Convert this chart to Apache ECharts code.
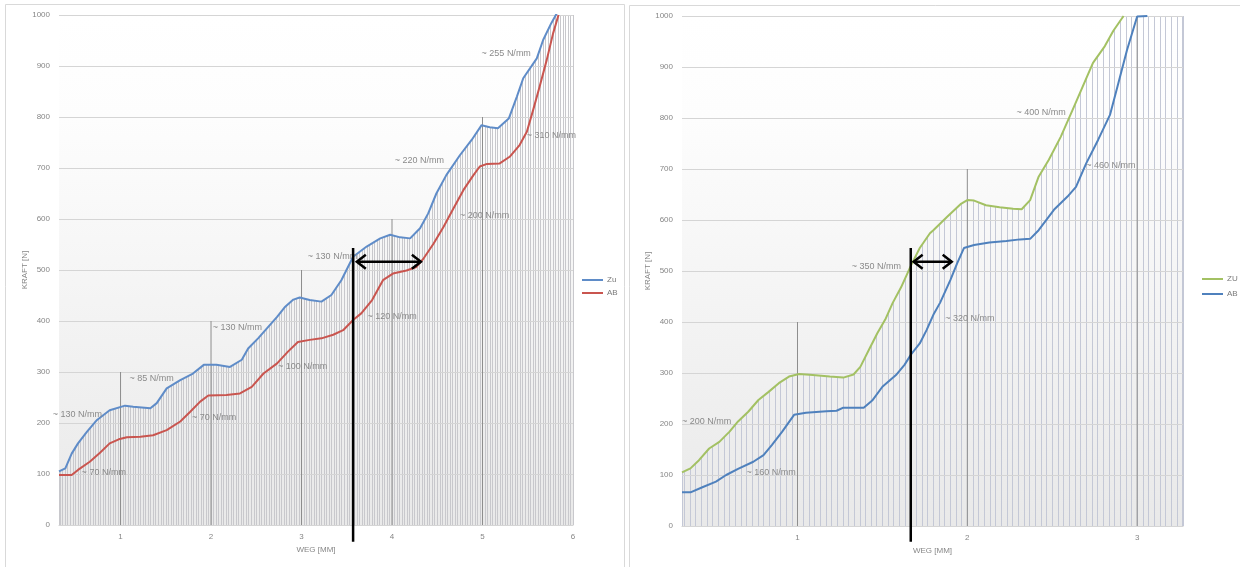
<!DOCTYPE html>
<html>
<head>
<meta charset="utf-8">
<script src="https://cdn.jsdelivr.net/npm/echarts@6/dist/echarts.min.js"></script>
<style>
  html, body { margin: 0; padding: 0; background: #ffffff; }
  #wrap { position: relative; width: 1240px; height: 567px; overflow: hidden; }
  #left { position: absolute; left: 0; top: 0; width: 627px; height: 567px; }
  #right { position: absolute; left: 627px; top: 0; width: 613px; height: 567px; }
</style>
</head>
<body>
<div id="wrap"><div id="left"></div><div id="right"></div></div>
<script>
// ---------- Left test: force [N] over travel [mm] ----------
const leftZu = [[0.32,105],[0.39,111],[0.46,140],[0.53,160],[0.63,183],[0.74,206],[0.88,225],[1.05,234],[1.14,232],[1.33,229],[1.40,239],[1.51,268],[1.66,284],[1.80,297],[1.92,314],[2.06,314],[2.21,310],[2.34,324],[2.41,346],[2.52,366],[2.62,386],[2.73,408],[2.82,428],[2.91,442],[2.98,446],[3.09,441],[3.22,438],[3.33,451],[3.44,480],[3.57,526],[3.72,546],[3.87,562],[3.98,569],[4.09,564],[4.20,562],[4.31,582],[4.40,611],[4.49,650],[4.60,686],[4.75,725],[4.88,755],[4.99,784],[5.08,780],[5.17,778],[5.29,797],[5.38,840],[5.45,876],[5.60,915],[5.67,951],[5.76,984],[5.82,1003]];
const leftAB = [[0.32,98],[0.46,98],[0.53,108],[0.66,124],[0.77,141],[0.88,160],[0.98,168],[1.07,172],[1.22,173],[1.36,176],[1.51,186],[1.66,203],[1.77,222],[1.88,242],[1.97,254],[2.17,255],[2.32,258],[2.45,271],[2.58,297],[2.73,317],[2.85,340],[2.96,359],[3.09,363],[3.22,366],[3.35,373],[3.46,382],[3.57,402],[3.66,415],[3.78,441],[3.90,480],[4.01,493],[4.16,499],[4.27,506],[4.35,523],[4.46,552],[4.57,585],[4.68,621],[4.79,657],[4.90,686],[4.97,703],[5.05,708],[5.19,709],[5.30,722],[5.41,745],[5.49,771],[5.56,814],[5.63,859],[5.71,912],[5.78,964],[5.84,1000]];
// reference drop lines: [travel, force reached]
const leftMajor = [[1,300],[2,400],[3,500],[4,600],[5,800]];
// stiffness notes: [text, travel, force]
const leftNotes = [
  ['~ 130 N/mm', 0.25, 216], ['~ 70 N/mm', 0.57, 102], ['~ 85 N/mm', 1.10, 288],
  ['~ 70 N/mm', 1.79, 210], ['~ 130 N/mm', 2.02, 388], ['~ 100 N/mm', 2.74, 310],
  ['~ 120 N/mm', 3.73, 408], ['~ 130 N/mm', 3.07, 527], ['~ 220 N/mm', 4.03, 714],
  ['~ 200 N/mm', 4.75, 606], ['~ 255 N/mm', 4.99, 924], ['~ 310 N/mm', 5.49, 763]
];
const leftMarker = [[3.57, -33, 543]];   // [travel, force bottom, force top]
const leftArrow = [[3.60, 4.33, 516]];   // [travel from, travel to, force]

// ---------- Right test ----------
const rightZu = [[0.32,105],[0.37,113],[0.42,129],[0.48,152],[0.54,165],[0.60,185],[0.65,205],[0.71,224],[0.77,247],[0.83,263],[0.89,280],[0.95,293],[1.01,298],[1.09,296],[1.19,293],[1.27,291],[1.33,297],[1.37,312],[1.42,345],[1.47,378],[1.52,407],[1.56,437],[1.61,468],[1.64,490],[1.67,512],[1.72,545],[1.78,574],[1.80,580],[1.88,606],[1.96,631],[2.00,639],[2.04,638],[2.11,629],[2.19,625],[2.27,622],[2.32,621],[2.37,639],[2.42,685],[2.48,718],[2.55,763],[2.62,816],[2.68,862],[2.74,908],[2.81,941],[2.86,971],[2.92,1000]];
const rightAB = [[0.32,66],[0.37,66],[0.44,76],[0.52,87],[0.58,100],[0.65,112],[0.74,126],[0.80,139],[0.85,159],[0.91,185],[0.98,218],[1.05,222],[1.17,225],[1.23,226],[1.27,232],[1.39,232],[1.44,246],[1.50,273],[1.58,296],[1.63,316],[1.67,337],[1.72,358],[1.76,384],[1.80,414],[1.84,438],[1.90,482],[1.94,515],[1.98,545],[2.04,551],[2.13,556],[2.23,559],[2.31,562],[2.37,563],[2.42,580],[2.51,620],[2.59,646],[2.64,665],[2.70,711],[2.77,757],[2.84,806],[2.89,869],[2.94,933],[3.00,999],[3.06,1000]];
const rightMajor = [[1,400],[2,700],[3,1000]];
const rightNotes = [
  ['~ 350 N/mm', 1.32, 508], ['~ 200 N/mm', 0.32, 204], ['~ 160 N/mm', 0.70, 104],
  ['~ 320 N/mm', 1.87, 406], ['~ 400 N/mm', 2.29, 810], ['~ 460 N/mm', 2.70, 706]
];
const rightMarker = [[1.667, -31, 545]];
const rightArrow = [[1.678, 1.914, 518]];

const FONT = '"Liberation Sans", Arial, sans-serif';
const TEXT_GREY = '#868686';

function plotGradient(g) {
  return new echarts.graphic.LinearGradient(0, g.top, 0, g.top + g.height, [
    { offset: 0, color: '#ffffff' },
    { offset: 0.2, color: '#fdfdfd' },
    { offset: 1, color: '#e9e9e9' }
  ], true);
}

function buildOption(c) {
  const g = c.grid;
  return {
    animation: false,
    backgroundColor: '#ffffff',
    textStyle: { fontFamily: FONT },
    graphic: [{
      type: 'rect', silent: true,
      shape: c.frame,
      style: { fill: 'none', stroke: '#d9d9d9', lineWidth: 1 }
    }],
    grid: {
      left: g.left, top: g.top, width: g.width, height: g.height,
      show: true, borderWidth: 0, backgroundColor: plotGradient(g)
    },
    legend: {
      left: c.legendLeft, top: c.legendTop, orient: 'vertical', padding: 0,
      icon: 'rect', itemWidth: 21, itemHeight: 2, itemGap: c.legendGap,
      selectedMode: false,
      textStyle: { fontSize: 8, color: '#7a7a7a', fontFamily: FONT, padding: [0, 0, 0, -1] },
      data: [c.zuName, c.abName]
    },
    xAxis: {
      type: 'value', min: c.xMin, max: c.xMax, splitNumber: c.xSplit, z: 0,
      name: 'WEG [MM]', nameLocation: 'middle', nameGap: 20,
      nameTextStyle: { fontSize: 8, color: TEXT_GREY, fontFamily: FONT },
      axisLine: { show: true, lineStyle: { color: '#cfcfcf', width: 1 } },
      axisTick: { show: false },
      axisLabel: {
        fontSize: 8, color: TEXT_GREY, margin: 8, showMinLabel: false, showMaxLabel: c.showMaxLabel,
        formatter: v => (Math.abs(v - Math.round(v)) < 1e-9 ? String(Math.round(v)) : '')
      },
      splitLine: { show: true, lineStyle: { color: c.hatch, width: 1 } },
      minorTick: { show: false, splitNumber: c.hatchPerMm },
      minorSplitLine: { show: true, lineStyle: { color: c.hatch, width: 1 } }
    },
    yAxis: {
      type: 'value', min: 0, max: 1000, interval: 100, z: 2,
      name: 'KRAFT [N]', nameLocation: 'middle', nameRotate: 90, nameGap: 30,
      nameMoveOverlap: false,
      nameTextStyle: { fontSize: 8, color: TEXT_GREY, fontFamily: FONT },
      axisLine: { show: false }, axisTick: { show: false },
      axisLabel: { fontSize: 8, color: TEXT_GREY, margin: 9, formatter: v => String(v) },
      splitLine: { show: true, lineStyle: { color: '#d5d5d5', width: 1 } }
    },
    series: [
      // background fill above the upper curve hides the drop-line hatching there
      {
        type: 'line', data: c.zu, symbol: 'none', silent: true, z: 1,
        lineStyle: { width: 0, opacity: 0 },
        areaStyle: { origin: 'end', color: plotGradient(g), opacity: 1 }
      },
      {
        type: 'custom', z: 3, silent: true, data: c.major,
        encode: { x: 0, y: 1 },
        renderItem: (params, api) => {
          const p0 = api.coord([api.value(0), 0]);
          const p1 = api.coord([api.value(0), api.value(1)]);
          return { type: 'line', shape: { x1: p0[0], y1: p0[1], x2: p1[0], y2: p1[1] },
                   style: { stroke: '#8d8d8d', lineWidth: 1 } };
        }
      },
      {
        name: c.zuName, type: 'line', data: c.zu, symbol: 'none', z: 4,
        color: c.zuColor, lineStyle: { color: c.zuColor, width: 2 }
      },
      {
        name: c.abName, type: 'line', data: c.ab, symbol: 'none', z: 4,
        color: c.abColor, lineStyle: { color: c.abColor, width: 2 }
      },
      {
        type: 'custom', z: 5, silent: true,
        data: c.notes.map(n => [n[1], n[2]]),
        encode: { x: 0, y: 1 },
        renderItem: (params, api) => {
          const p = api.coord([api.value(0), api.value(1)]);
          return { type: 'text', x: p[0], y: p[1],
                   style: { text: c.notes[params.dataIndex][0], fill: '#8a8a8a', fontSize: 9,
                            fontFamily: FONT, align: 'left', verticalAlign: 'middle' } };
        }
      },
      {
        type: 'custom', z: 6, silent: true, data: c.marker,
        encode: { x: 0, y: [1, 2] },
        renderItem: (params, api) => {
          const a = api.coord([api.value(0), api.value(1)]);
          const b = api.coord([api.value(0), api.value(2)]);
          return { type: 'line', shape: { x1: a[0], y1: a[1], x2: b[0], y2: b[1] },
                   style: { stroke: '#000000', lineWidth: 2.5 } };
        }
      },
      {
        type: 'custom', z: 6, silent: true, data: c.arrow,
        encode: { x: [0, 1], y: 2 },
        renderItem: (params, api) => {
          const a = api.coord([api.value(0), api.value(2)]);
          const b = api.coord([api.value(1), api.value(2)]);
          const st = { stroke: '#000000', lineWidth: 2.5, fill: null, lineJoin: 'miter' };
          return { type: 'group', children: [
            { type: 'line', shape: { x1: a[0] + 1, y1: a[1], x2: b[0] - 1, y2: b[1] }, style: st },
            { type: 'polyline', shape: { points: [[a[0] + 10, a[1] - 7], [a[0] + 1, a[1]], [a[0] + 10, a[1] + 7]] }, style: st },
            { type: 'polyline', shape: { points: [[b[0] - 10, b[1] - 7], [b[0] - 1, b[1]], [b[0] - 10, b[1] + 7]] }, style: st }
          ] };
        }
      }
    ]
  };
}

const leftChart = echarts.init(document.getElementById('left'), null, { renderer: 'canvas' });
leftChart.setOption(buildOption({
  grid: { left: 59, top: 15, width: 514, height: 510 },
  frame: { x: 5.5, y: 4.5, width: 619, height: 600 },
  xMin: 0.32, xMax: 6, xSplit: 5, showMaxLabel: true, hatchPerMm: 36,
  zu: leftZu, ab: leftAB, zuName: 'Zu', abName: 'AB',
  zuColor: '#5f8cc8', abColor: '#c9554f', hatch: '#c8c8cc',
  major: leftMajor, notes: leftNotes, marker: leftMarker, arrow: leftArrow,
  legendLeft: 582, legendTop: 276, legendGap: 5
}));

const rightChart = echarts.init(document.getElementById('right'), null, { renderer: 'canvas' });
rightChart.setOption(buildOption({
  grid: { left: 55, top: 16, width: 501, height: 510 },
  frame: { x: 2.5, y: 5.5, width: 700, height: 600 },
  xMin: 0.32, xMax: 3.27, xSplit: 3, showMaxLabel: false, hatchPerMm: 30,
  zu: rightZu, ab: rightAB, zuName: 'ZU', abName: 'AB',
  zuColor: '#a3c163', abColor: '#4f81bd', hatch: '#c4c8d6',
  major: rightMajor, notes: rightNotes, marker: rightMarker, arrow: rightArrow,
  legendLeft: 575, legendTop: 275, legendGap: 7
}));
</script>
</body>
</html>
